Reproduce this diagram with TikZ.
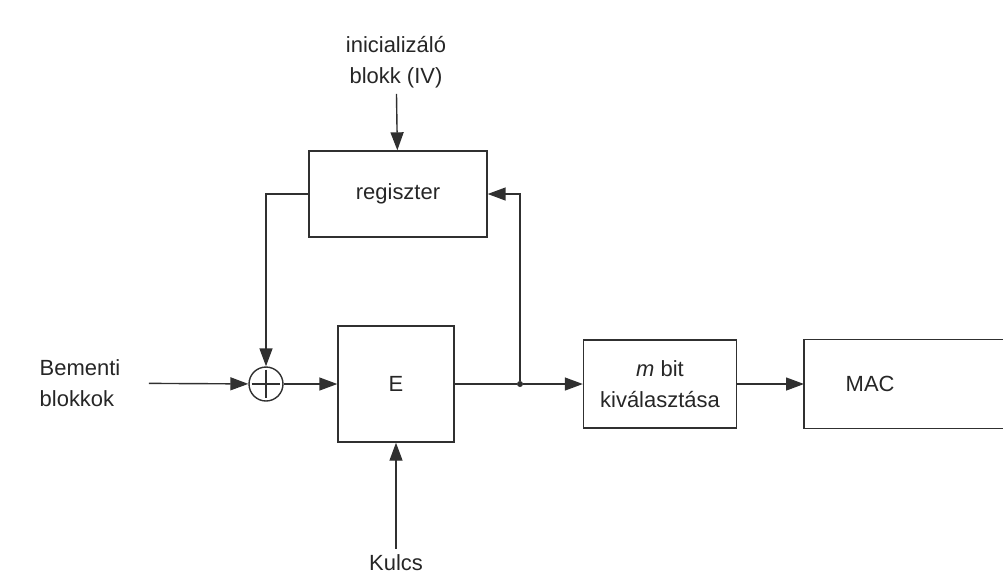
\documentclass[tikz,border=0pt]{standalone}
\usepackage{fontspec}
\setmainfont{Liberation Sans}
\usetikzlibrary{arrows.meta, positioning, calc}
\definecolor{cLine}{HTML}{303030}

\begin{document}
\begin{tikzpicture}[
    x=0.02cm, y=-0.02cm,
    box/.style={draw=cLine, line width=0.8pt, inner sep=0pt, align=center},
    sum/.style={draw=cLine, line width=0.8pt, circle, minimum size=0.68cm,
                inner sep=0pt,
                path picture={\draw[cLine, line width=0.7pt]
                  ([yshift=-1.5pt]path picture bounding box.north) --
                  ([yshift=1.5pt]path picture bounding box.south)
                  ([xshift=1.5pt]path picture bounding box.west) --
                  ([xshift=-1.5pt]path picture bounding box.east);}},
    dot/.style={circle, fill=cLine, inner sep=0pt, minimum size=0.12cm},
    arr/.style={-{Triangle[length=0.36cm, width=0.26cm]}, line width=0.8pt,
                draw=cLine},
    every node/.style={font=\fontsize{12.5}{17.5}\selectfont, text=black!85},
  ]
  \useasboundingbox (0,0) rectangle (1003,583);

  % Blocks
  \node[box, minimum width=3.56cm, minimum height=1.72cm] (reg) at (398,194) {regiszter};
  \node[box, minimum width=2.32cm, minimum height=2.32cm] (enc) at (396,384) {E};
  \node[sum]                                              (xor) at (266,384) {};
  \node[box, minimum width=3.06cm, minimum height=1.76cm] (sel) at (660,384)
    {\textit{m} bit\\kiválasztása};
  % MAC box runs off the right edge
  \node[box, draw=none, anchor=west, inner xsep=0.82cm, text width=2cm,
        align=left, minimum height=1.76cm]                (mac) at (804,384) {MAC};
  \draw[line width=0.8pt, draw=cLine]
    (mac.north west -| 1003,0) -- (mac.north west) -- (mac.south west)
    -- (mac.south west -| 1003,0);
  \node[dot]                                              (jn)  at (520,384) {};

  % Inputs
  \node[align=center] (iv)  at (396,62)  {inicializáló\\blokk (IV)};
  \node[align=left]   (in)  at (80,383)  {Bementi\\blokkok};
  \node               (key) at (396,563) {Kulcs};

  % Connectors
  \draw[arr] (iv) -- (reg);
  \draw[arr] (reg.west) -| (xor);
  \draw[arr, shorten <=0.45cm] (in) -- (xor);
  \draw[arr] (xor) -- (enc);
  \draw[line width=0.8pt, draw=cLine] (enc) -- (jn);
  \draw[arr] (jn) |- (reg.east);
  \draw[arr] (jn) -- (sel);
  \draw[arr] (sel) -- (mac);
  \draw[arr] (key) -- (enc);
\end{tikzpicture}
\end{document}
